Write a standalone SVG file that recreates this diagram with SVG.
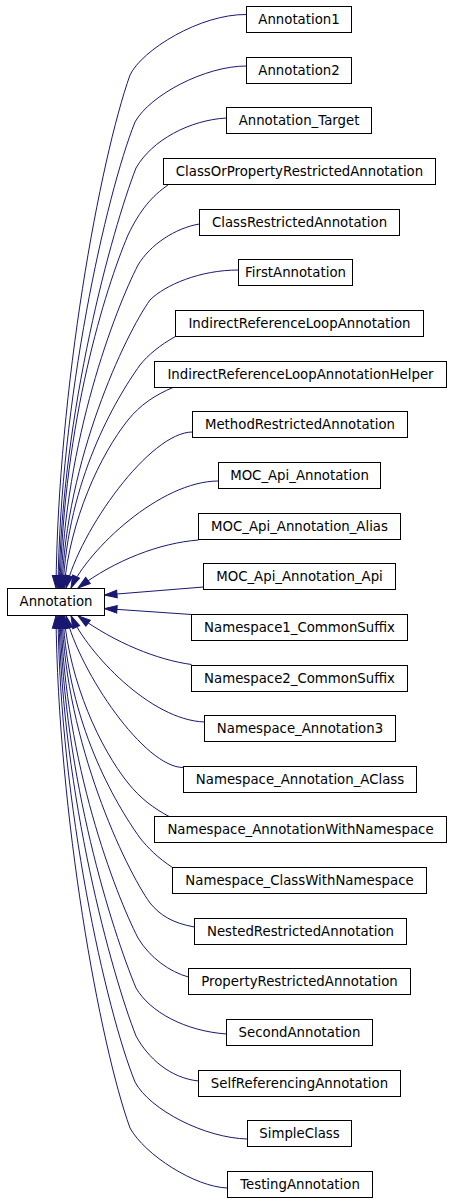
<svg xmlns="http://www.w3.org/2000/svg" width="451" height="1203" viewBox="0 0 451 1203">
<style>
.node rect{fill:#fff;stroke:#000;stroke-width:1}
.node text{font-family:"DejaVu Sans","Liberation Sans",sans-serif;font-size:13.3px;fill:#000;text-anchor:middle}
#edges path{fill:none;stroke:#191970;stroke-width:1;marker-end:url(#ah)}
</style>
<defs>
<marker id="ah" markerUnits="userSpaceOnUse" markerWidth="16" markerHeight="12" refX="12.5" refY="4" orient="auto" overflow="visible">
<path d="M0,0.2 L12.5,4 L0,7.8 z" fill="#191970" stroke="#191970" stroke-width="1"/>
</marker>
</defs>
<rect width="451" height="1203" fill="#fff"/>
<g id="edges">
<path d="M246.5,14.5 C200,14 142,50 130,75 C100,160 58,388 56,588"/>
<path d="M246.5,66 C205,66 150,95 135,122 C106,195 60,400 58,588"/>
<path d="M226.5,118 C190,120 152,140 136,168 C112,230 62,410 59,588"/>
<path d="M168,185 C152,196 140,210 128,235 C105,290 64,420 60,588"/>
<path d="M199.5,224 C175,228 150,245 138,265 C115,310 65,440 61,588"/>
<path d="M238.5,270 C200,270 165,285 150,300 C125,335 66,460 62,588"/>
<path d="M175.5,336.5 C160,345 148,355 140,365 C115,400 68,480 63,588"/>
<path d="M173,387.5 C155,395 140,405 128,420 C100,455 70,520 64,588"/>
<path d="M192.5,432 C150,432 80,530 66,588"/>
<path d="M218.5,481 C160,481 88,550 71,588"/>
<path d="M198.5,540 C160,543 115,560 78,588"/>
<path d="M203.5,587 L104.5,595"/>
<path d="M191.5,614.5 L104.5,608.5"/>
<path d="M191.5,664.5 C158,660 115,643 78,615.8"/>
<path d="M204.5,722 C150,720 88,653 71,615.8"/>
<path d="M183.5,767.5 C145,768 80,673 66,615.8"/>
<path d="M170,817 C153,808 140,798 128,783 C100,748 70,683 64,615.8"/>
<path d="M172.5,867.5 C158,858 148,848 140,838 C115,803 68,723 63,615.8"/>
<path d="M194.5,927 C172,923 160,915 150,903 C125,868 66,743 62,615.8"/>
<path d="M188.5,977 C170,972 150,958 138,938 C115,893 65,763 61,615.8"/>
<path d="M226.5,1034 C185,1031 150,1012 136,988 C112,930 64,780 60,615.8"/>
<path d="M198.5,1081 C170,1078 148,1058 136,1036 C112,975 62,795 59,615.8"/>
<path d="M247.5,1139 C205,1138 150,1110 135,1082 C106,1010 60,805 58,615.8"/>
<path d="M227.5,1188 C195,1187 145,1155 130,1128 C100,1045 58,815 56,615.8"/>
</g>
<g id="Annotation" class="node"><rect x="7.5" y="588.5" width="97" height="27"/><text x="56" y="606">Annotation</text></g>
<g id="Annotation1" class="node"><rect x="246.5" y="6.5" width="105" height="26"/><text x="299" y="24">Annotation1</text></g>
<g id="Annotation2" class="node"><rect x="246.5" y="57.5" width="105" height="26"/><text x="299" y="75">Annotation2</text></g>
<g id="Annotation_Target" class="node"><rect x="226.5" y="107.5" width="145" height="26"/><text x="299" y="125">Annotation_Target</text></g>
<g id="ClassOrPropertyRestrictedAnnotation" class="node"><rect x="163.5" y="158.5" width="272" height="26"/><text x="299.5" y="176">ClassOrPropertyRestrictedAnnotation</text></g>
<g id="ClassRestrictedAnnotation" class="node"><rect x="199.5" y="209.5" width="200" height="26"/><text x="299.5" y="227">ClassRestrictedAnnotation</text></g>
<g id="FirstAnnotation" class="node"><rect x="238.5" y="259.5" width="114" height="26"/><text x="295.5" y="277">FirstAnnotation</text></g>
<g id="IndirectReferenceLoopAnnotation" class="node"><rect x="175.5" y="310.5" width="248" height="26"/><text x="299.5" y="328">IndirectReferenceLoopAnnotation</text></g>
<g id="IndirectReferenceLoopAnnotationHelper" class="node"><rect x="154.5" y="361.5" width="292" height="26"/><text x="300.5" y="379">IndirectReferenceLoopAnnotationHelper</text></g>
<g id="MethodRestrictedAnnotation" class="node"><rect x="192.5" y="411.5" width="215" height="26"/><text x="300" y="429">MethodRestrictedAnnotation</text></g>
<g id="MOC_Api_Annotation" class="node"><rect x="218.5" y="462.5" width="162" height="26"/><text x="299.5" y="480">MOC_Api_Annotation</text></g>
<g id="MOC_Api_Annotation_Alias" class="node"><rect x="198.5" y="513.5" width="202" height="26"/><text x="299.5" y="531">MOC_Api_Annotation_Alias</text></g>
<g id="MOC_Api_Annotation_Api" class="node"><rect x="203.5" y="563.5" width="192" height="26"/><text x="299.5" y="581">MOC_Api_Annotation_Api</text></g>
<g id="Namespace1_CommonSuffix" class="node"><rect x="191.5" y="614.5" width="216" height="26"/><text x="299.5" y="632">Namespace1_CommonSuffix</text></g>
<g id="Namespace2_CommonSuffix" class="node"><rect x="191.5" y="665.5" width="216" height="26"/><text x="299.5" y="683">Namespace2_CommonSuffix</text></g>
<g id="Namespace_Annotation3" class="node"><rect x="204.5" y="715.5" width="191" height="26"/><text x="300" y="733">Namespace_Annotation3</text></g>
<g id="Namespace_Annotation_AClass" class="node"><rect x="183.5" y="766.5" width="233" height="26"/><text x="300" y="784">Namespace_Annotation_AClass</text></g>
<g id="Namespace_AnnotationWithNamespace" class="node"><rect x="154.5" y="816.5" width="292" height="26"/><text x="300.5" y="834">Namespace_AnnotationWithNamespace</text></g>
<g id="Namespace_ClassWithNamespace" class="node"><rect x="172.5" y="867.5" width="254" height="26"/><text x="299.5" y="885">Namespace_ClassWithNamespace</text></g>
<g id="NestedRestrictedAnnotation" class="node"><rect x="194.5" y="918.5" width="212" height="26"/><text x="300.5" y="936">NestedRestrictedAnnotation</text></g>
<g id="PropertyRestrictedAnnotation" class="node"><rect x="188.5" y="968.5" width="222" height="26"/><text x="299.5" y="986">PropertyRestrictedAnnotation</text></g>
<g id="SecondAnnotation" class="node"><rect x="226.5" y="1019.5" width="146" height="26"/><text x="299.5" y="1037">SecondAnnotation</text></g>
<g id="SelfReferencingAnnotation" class="node"><rect x="198.5" y="1070.5" width="202" height="26"/><text x="299.5" y="1088">SelfReferencingAnnotation</text></g>
<g id="SimpleClass" class="node"><rect x="247.5" y="1120.5" width="104" height="26"/><text x="299.5" y="1138">SimpleClass</text></g>
<g id="TestingAnnotation" class="node"><rect x="227.5" y="1171.5" width="145" height="26"/><text x="300" y="1189">TestingAnnotation</text></g>
</svg>
